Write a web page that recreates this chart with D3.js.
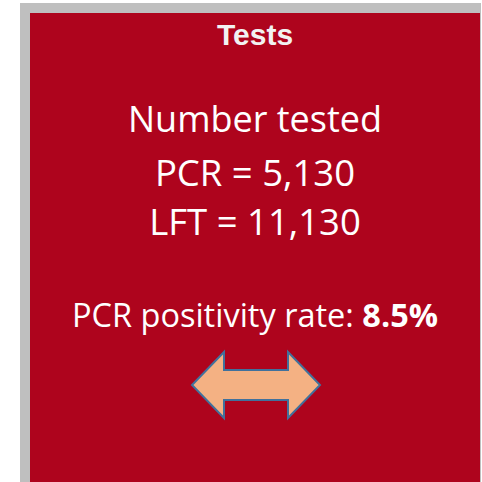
<!DOCTYPE html>
<html>
<head>
<meta charset="utf-8">
<script src="https://cdn.jsdelivr.net/npm/d3@7"></script>
<style>
  body { margin: 0; background: #fff; }
</style>
</head>
<body>
<div id="panel"></div>
<script>
// data
var title = "Tests";
var heading = "Number tested";
var testTypes = ["PCR", "LFT"];
var testCounts = [5130, 11130];
var positivityLabel = "PCR positivity rate: ";
var positivityRate = [8.5];

var width = 482, height = 482;
var fmt = d3.format(",");

var svg = d3.select("#panel")
    .append("svg")
    .attr("width", width)
    .attr("height", height);

// grey frame + red card
svg.append("rect")
    .attr("x", 20).attr("y", 3)
    .attr("width", 461).attr("height", 479)
    .attr("fill", "#bfbfbf");
svg.append("rect")
    .attr("x", 30).attr("y", 13)
    .attr("width", 450).attr("height", 469)
    .attr("fill", "#ae041d");

var cx = 255;

svg.append("text")
    .attr("x", cx).attr("y", 45)
    .attr("text-anchor", "middle")
    .style("font-family", "Liberation Sans, Arial, sans-serif")
    .style("font-weight", "bold")
    .style("font-size", "30px")
    .attr("fill", "#f2f2f2")
    .text(title);

var body = "'Open Sans', 'Noto Sans', sans-serif";

svg.append("text")
    .attr("x", cx).attr("y", 132)
    .attr("text-anchor", "middle")
    .style("font-family", body)
    .style("font-size", "36px")
    .attr("fill", "#fff")
    .text(heading);

// one line per test type
var y = d3.scalePoint()
    .domain(testTypes)
    .range([186, 235]);

svg.selectAll("text.count")
    .data(testTypes)
    .enter()
    .append("text")
    .attr("class", "count")
    .attr("x", cx)
    .attr("y", function (d) { return y(d); })
    .attr("text-anchor", "middle")
    .style("font-family", body)
    .style("font-size", "36.5px")
    .attr("fill", "#fff")
    .text(function (d, i) { return d + " = " + fmt(testCounts[i]); });

var pos = svg.append("text")
    .attr("x", cx).attr("y", 327)
    .attr("text-anchor", "middle")
    .style("font-family", body)
    .style("font-size", "32.5px")
    .attr("fill", "#fff");
pos.append("tspan").text(positivityLabel);
pos.append("tspan")
    .style("font-weight", "bold")
    .text(positivityRate[0] + "%");

// double-headed arrow
var ax = 256, ay = 385;
var half = 64, head = 32, headH = 33, shaftH = 15;
var arrow = [
    [ax - half, ay],
    [ax - half + head, ay - headH],
    [ax - half + head, ay - shaftH],
    [ax + half - head, ay - shaftH],
    [ax + half - head, ay - headH],
    [ax + half, ay],
    [ax + half - head, ay + headH],
    [ax + half - head, ay + shaftH],
    [ax - half + head, ay + shaftH],
    [ax - half + head, ay + headH]
];
svg.append("path")
    .attr("d", d3.line()(arrow) + "Z")
    .attr("fill", "#f4b183")
    .attr("stroke", "#41719c")
    .attr("stroke-width", 2);
</script>
</body>
</html>
